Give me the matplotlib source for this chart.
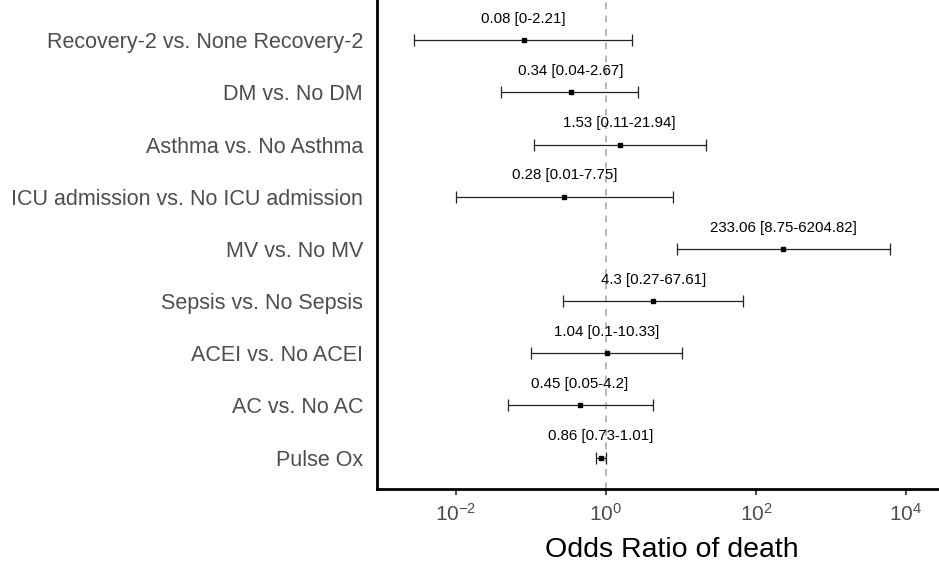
import numpy as np
import matplotlib
matplotlib.use("Agg")
import matplotlib.pyplot as plt

# forest plot data (bottom to top)
labels = ["Pulse Ox", "AC vs. No AC", "ACEI vs. No ACEI", "Sepsis vs. No Sepsis",
          "MV vs. No MV", "ICU admission vs. No ICU admission",
          "Asthma vs. No Asthma", "DM vs. No DM", "Recovery-2 vs. None Recovery-2"]
odds = [0.86, 0.45, 1.04, 4.3, 233.06, 0.28, 1.53, 0.34, 0.08]
lower = [0.73, 0.05, 0.1, 0.27, 8.75, 0.01, 0.11, 0.04, 0.0028]
upper = [1.01, 4.2, 10.33, 67.61, 6204.82, 7.75, 21.94, 2.67, 2.21]
text_labels = ["0.86 [0.73-1.01]", "0.45 [0.05-4.2]", "1.04 [0.1-10.33]", "4.3 [0.27-67.61]",
               "233.06 [8.75-6204.82]", "0.28 [0.01-7.75]", "1.53 [0.11-21.94]",
               "0.34 [0.04-2.67]", "0.08 [0-2.21]"]
xticks = [1e-2, 1e0, 1e2, 1e4]
xtick_labels = [r'$\mathregular{10^{-2}}$', r'$\mathregular{10^{0}}$',
                r'$\mathregular{10^{2}}$', r'$\mathregular{10^{4}}$']

plt.rcParams['font.family'] = ['Liberation Sans', 'DejaVu Sans']
plt.rcParams['axes.unicode_minus'] = False

fig = plt.figure(figsize=(9.39, 5.62), dpi=100)
ax = fig.add_axes([0.4015, 0.13, 0.5985, 0.87])

y = np.arange(len(labels))
odds = np.array(odds)
err = [odds - np.array(lower), np.array(upper) - odds]

ax.axvline(1, color='#AAAAAA', linestyle=(0, (4, 4)), linewidth=1.2, zorder=1)
ax.errorbar(odds, y, xerr=err, fmt='s', color='black', markersize=3.5,
            elinewidth=0.9, capsize=4, capthick=0.9, ecolor='#222222', zorder=3)

for yi, xi, t in zip(y, odds, text_labels):
    ax.text(xi, yi + 0.41, t, ha='center', va='center', fontsize=10.8, color='black')

ax.set_xscale('log')
ax.set_xlim(10 ** -3.05, 10 ** 4.44)
ax.set_ylim(-0.6, 8.77)
ax.set_xticks(xticks)
ax.set_xticklabels(xtick_labels)
ax.minorticks_off()
ax.set_yticks(y)
ax.set_yticklabels(labels, fontsize=15.5, color='#4D4D4D')
ax.tick_params(axis='y', length=0, pad=10)
ax.tick_params(axis='x', length=4, width=1.5, color='#4D4D4D', labelsize=15,
               labelcolor='#4D4D4D', pad=6)
ax.set_xlabel('Odds Ratio of death', fontsize=20.5, color='black')
ax.xaxis.set_label_coords(0.525, -0.098)

for s in ['top', 'right']:
    ax.spines[s].set_visible(False)
for s in ['left', 'bottom']:
    ax.spines[s].set_linewidth(2)
    ax.spines[s].set_color('black')

fig.savefig("out.png", dpi=100)
